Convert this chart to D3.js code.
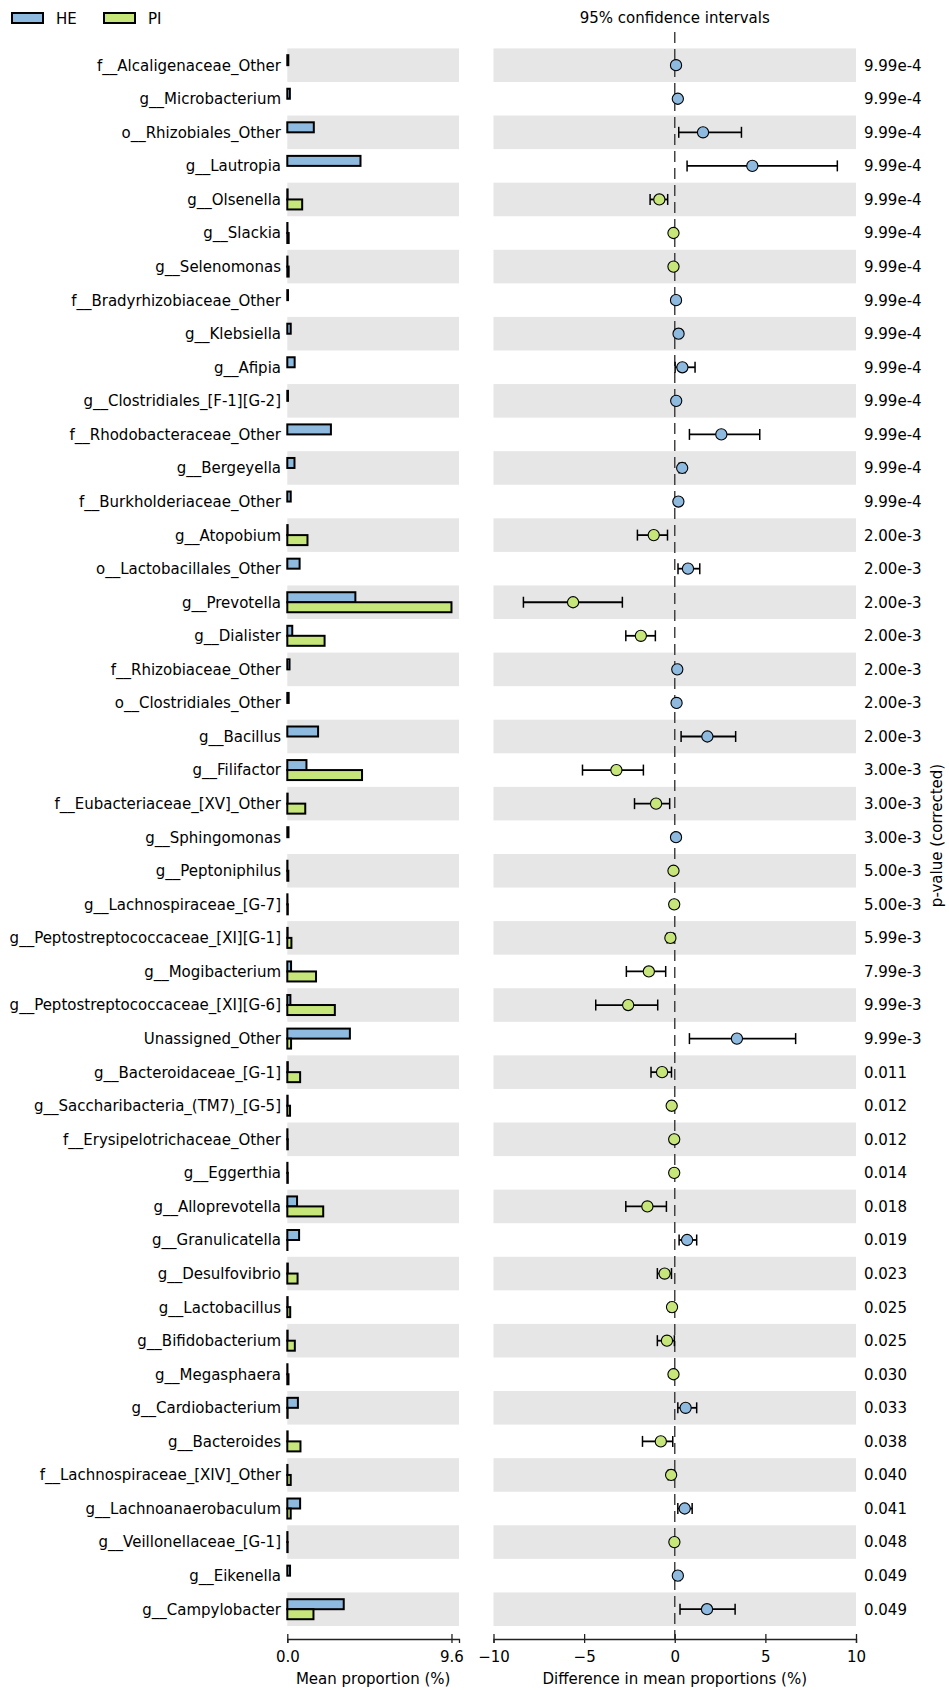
<!DOCTYPE html>
<html>
<head>
<meta charset="utf-8">
<script src="https://cdn.jsdelivr.net/npm/d3@7"></script>
<style>
  html, body { margin: 0; padding: 0; background: #fff; }
  svg { display: block; }
  text { font-family: "DejaVu Sans", sans-serif; fill: #000; }
</style>
</head>
<body>
<svg id="chart" width="949" height="1690"></svg>
<script>
// Taxa compared between the two groups (top to bottom)
const categories = [
  "f__Alcaligenaceae_Other", "g__Microbacterium", "o__Rhizobiales_Other", "g__Lautropia",
  "g__Olsenella", "g__Slackia", "g__Selenomonas", "f__Bradyrhizobiaceae_Other",
  "g__Klebsiella", "g__Afipia", "g__Clostridiales_[F-1][G-2]", "f__Rhodobacteraceae_Other",
  "g__Bergeyella", "f__Burkholderiaceae_Other", "g__Atopobium", "o__Lactobacillales_Other",
  "g__Prevotella", "g__Dialister", "f__Rhizobiaceae_Other", "o__Clostridiales_Other",
  "g__Bacillus", "g__Filifactor", "f__Eubacteriaceae_[XV]_Other", "g__Sphingomonas",
  "g__Peptoniphilus", "g__Lachnospiraceae_[G-7]", "g__Peptostreptococcaceae_[XI][G-1]", "g__Mogibacterium",
  "g__Peptostreptococcaceae_[XI][G-6]", "Unassigned_Other", "g__Bacteroidaceae_[G-1]", "g__Saccharibacteria_(TM7)_[G-5]",
  "f__Erysipelotrichaceae_Other", "g__Eggerthia", "g__Alloprevotella", "g__Granulicatella",
  "g__Desulfovibrio", "g__Lactobacillus", "g__Bifidobacterium", "g__Megasphaera",
  "g__Cardiobacterium", "g__Bacteroides", "f__Lachnospiraceae_[XIV]_Other", "g__Lachnoanaerobaculum",
  "g__Veillonellaceae_[G-1]", "g__Eikenella", "g__Campylobacter"
];

const groups = ["HE", "PI"];

// Mean proportion (%) per group
const heMean = [
  0.06, 0.15, 1.55, 4.28, 0.02, 0.01, 0.01, 0.04, 0.20, 0.43, 0.04, 2.55,
  0.42, 0.20, 0.02, 0.72, 3.98, 0.29, 0.13, 0.08, 1.80, 1.12, 0.02, 0.07,
  0.01, 0.01, 0.02, 0.22, 0.18, 3.66, 0.03, 0.02, 0.01, 0.01, 0.57, 0.69,
  0.03, 0.02, 0.02, 0.01, 0.62, 0.02, 0.01, 0.75, 0.01, 0.16, 3.30
];
const piMean = [
  0.00, 0.00, 0.00, 0.00, 0.87, 0.08, 0.08, 0.00, 0.00, 0.00, 0.00, 0.00,
  0.00, 0.00, 1.18, 0.00, 9.60, 2.18, 0.00, 0.00, 0.00, 4.37, 1.05, 0.00,
  0.06, 0.03, 0.24, 1.68, 2.78, 0.22, 0.75, 0.16, 0.03, 0.03, 2.10, 0.01,
  0.60, 0.17, 0.44, 0.07, 0.02, 0.77, 0.20, 0.20, 0.02, 0.00, 1.53
];

// Difference in mean proportions (%) with 95% confidence interval
const diffMean = [
  0.07, 0.17, 1.56, 4.28, -0.85, -0.07, -0.07, 0.07, 0.21, 0.42, 0.08, 2.57,
  0.41, 0.20, -1.16, 0.73, -5.61, -1.87, 0.14, 0.10, 1.80, -3.22, -1.03, 0.07,
  -0.07, -0.03, -0.24, -1.43, -2.57, 3.43, -0.70, -0.17, -0.03, -0.03, -1.51, 0.68,
  -0.56, -0.15, -0.43, -0.07, 0.60, -0.77, -0.20, 0.55, -0.02, 0.17, 1.78
];
const ciLow = [
  0.03, 0.10, 0.22, 0.68, -1.36, -0.12, -0.12, 0.03, 0.10, 0.02, 0.03, 0.81,
  0.24, 0.10, -2.06, 0.18, -8.35, -2.70, 0.05, 0.03, 0.35, -5.09, -2.22, 0.02,
  -0.12, -0.06, -0.42, -2.67, -4.36, 0.81, -1.31, -0.30, -0.06, -0.06, -2.70, 0.24,
  -0.96, -0.28, -0.96, -0.12, 0.17, -1.78, -0.36, 0.17, -0.04, 0.05, 0.29
];
const ciHigh = [
  0.11, 0.24, 3.68, 8.97, -0.39, -0.02, -0.02, 0.11, 0.33, 1.12, 0.13, 4.69,
  0.58, 0.30, -0.40, 1.38, -2.89, -1.07, 0.23, 0.17, 3.36, -1.73, -0.28, 0.12,
  -0.02, -0.01, -0.07, -0.50, -0.94, 6.67, -0.18, -0.04, -0.01, -0.01, -0.46, 1.21,
  -0.18, -0.03, -0.02, -0.02, 1.21, -0.11, -0.05, 0.96, -0.01, 0.30, 3.33
];

// Corrected p-values
const pValues = [
  "9.99e-4", "9.99e-4", "9.99e-4", "9.99e-4", "9.99e-4", "9.99e-4", "9.99e-4", "9.99e-4",
  "9.99e-4", "9.99e-4", "9.99e-4", "9.99e-4", "9.99e-4", "9.99e-4", "2.00e-3", "2.00e-3",
  "2.00e-3", "2.00e-3", "2.00e-3", "2.00e-3", "2.00e-3", "3.00e-3", "3.00e-3", "3.00e-3",
  "5.00e-3", "5.00e-3", "5.99e-3", "7.99e-3", "9.99e-3", "9.99e-3", "0.011", "0.012",
  "0.012", "0.014", "0.018", "0.019", "0.023", "0.025", "0.025", "0.030",
  "0.033", "0.038", "0.040", "0.041", "0.048", "0.049", "0.049"
];

const meanTicks = [0, 9.6];
const diffTicks = [-10, -5, 0, 5, 10];

const colors = { HE: "#8ebadf", PI: "#c6e67a" };
const bandFill = "#e6e6e6";

const rows = categories.map((name, i) => ({
  name, i, he: heMean[i], pi: piMean[i],
  diff: diffMean[i], lo: ciLow[i], hi: ciHigh[i], p: pValues[i]
}));

const svg = d3.select("#chart");

// Layout
const rowTop = 48.4, rowBottom = 1626;
const axisY = 1639, axesTop = 32;
const leftX0 = 287.3, leftX1 = 459;
const rightX0 = 493.5, rightX1 = 856;

const y = d3.scaleBand().domain(categories).range([rowTop, rowBottom]).paddingInner(0).paddingOuter(0);
const xMean = d3.scaleLinear().domain([0, 10.04]).range([leftX0, leftX1]);
const xDiff = d3.scaleLinear().domain([-10, 10]).range([rightX0, rightX1]);
const bh = 10; // height of each group bar

// Alternating row bands in both panels
const bands = svg.append("g");
rows.filter(d => d.i % 2 === 0).forEach(d => {
  bands.append("rect").attr("x", leftX0).attr("y", y(d.name))
    .attr("width", leftX1 - leftX0).attr("height", y.bandwidth()).attr("fill", bandFill);
  bands.append("rect").attr("x", rightX0).attr("y", y(d.name))
    .attr("width", rightX1 - rightX0).attr("height", y.bandwidth()).attr("fill", bandFill);
});

// Row labels
svg.append("g").selectAll("text").data(rows).join("text")
  .attr("x", 281).attr("y", d => y(d.name) + y.bandwidth() / 2)
  .attr("dy", "0.36em").attr("text-anchor", "end").attr("font-size", 15)
  .text(d => d.name);

// Mean proportion bars
const barG = svg.append("g");
barG.selectAll("rect.he").data(rows).join("rect").attr("class", "he")
  .attr("x", xMean(0)).attr("y", d => y(d.name) + y.bandwidth() / 2 - bh)
  .attr("width", d => xMean(d.he) - xMean(0)).attr("height", bh)
  .attr("fill", colors.HE).attr("stroke", "#000").attr("stroke-width", 2);
barG.selectAll("rect.pi").data(rows).join("rect").attr("class", "pi")
  .attr("x", xMean(0)).attr("y", d => y(d.name) + y.bandwidth() / 2)
  .attr("width", d => xMean(d.pi) - xMean(0)).attr("height", bh)
  .attr("fill", colors.PI).attr("stroke", "#000").attr("stroke-width", 2);

// Zero reference line in the difference panel
svg.append("line")
  .attr("x1", xDiff(0)).attr("x2", xDiff(0)).attr("y1", axesTop).attr("y2", axisY)
  .attr("stroke", "#444").attr("stroke-width", 1.5).attr("stroke-dasharray", "11,6");

// Confidence intervals
const ciG = svg.append("g");
rows.forEach(d => {
  const cy = y(d.name) + y.bandwidth() / 2;
  const g = ciG.append("g");
  g.append("line").attr("x1", xDiff(d.lo)).attr("x2", xDiff(d.hi)).attr("y1", cy).attr("y2", cy)
    .attr("stroke", "#000").attr("stroke-width", 1.8);
  [d.lo, d.hi].forEach(v => {
    g.append("line").attr("x1", xDiff(v)).attr("x2", xDiff(v)).attr("y1", cy - 5.5).attr("y2", cy + 5.5)
      .attr("stroke", "#000").attr("stroke-width", 1.5);
  });
  g.append("circle").attr("cx", xDiff(d.diff)).attr("cy", cy).attr("r", 5.6)
    .attr("fill", d.diff >= 0 ? colors.HE : colors.PI).attr("stroke", "#000").attr("stroke-width", 1.1);
});

// p-values
svg.append("g").selectAll("text").data(rows).join("text")
  .attr("x", 864).attr("y", d => y(d.name) + y.bandwidth() / 2)
  .attr("dy", "0.36em").attr("font-size", 15).text(d => d.p);

svg.append("text")
  .attr("transform", `translate(942, ${(axesTop + axisY) / 2}) rotate(-90)`)
  .attr("text-anchor", "middle").attr("font-size", 15).text("p-value (corrected)");

// Panel title
svg.append("text").attr("x", xDiff(0)).attr("y", 23).attr("text-anchor", "middle")
  .attr("font-size", 15).text("95% confidence intervals");

// Bottom axes
function styleAxis(g) {
  g.selectAll(".domain").attr("stroke", "#222").attr("stroke-width", 1.3);
  g.selectAll(".tick line").attr("y1", -5).attr("y2", 4).attr("stroke", "#222").attr("stroke-width", 1.3);
  g.selectAll(".tick text").attr("font-size", 15).attr("font-family", "DejaVu Sans, sans-serif").attr("fill", "#000");
}
svg.append("g").attr("transform", `translate(0,${axisY})`)
  .call(d3.axisBottom(xMean).tickValues(meanTicks).tickFormat(d3.format(".1f")).tickSizeOuter(0).tickSize(4).tickPadding(8))
  .call(styleAxis);
svg.append("g").attr("transform", `translate(0,${axisY})`)
  .call(d3.axisBottom(xDiff).tickValues(diffTicks).tickFormat(d => d < 0 ? "\u2212" + Math.abs(d) : d).tickSizeOuter(0).tickSize(4).tickPadding(8))
  .call(styleAxis);

svg.append("text").attr("x", (leftX0 + leftX1) / 2).attr("y", 1684).attr("text-anchor", "middle")
  .attr("font-size", 15).text("Mean proportion (%)");
svg.append("text").attr("x", (rightX0 + rightX1) / 2).attr("y", 1684).attr("text-anchor", "middle")
  .attr("font-size", 15).text("Difference in mean proportions (%)");

// Legend
const legend = svg.append("g");
const legendX = [12, 104];
groups.forEach((gname, k) => {
  legend.append("rect").attr("x", legendX[k]).attr("y", 13).attr("width", 31).attr("height", 10)
    .attr("fill", colors[gname]).attr("stroke", "#000").attr("stroke-width", 2);
  legend.append("text").attr("x", legendX[k] + 44).attr("y", 24).attr("font-size", 15).text(gname);
});
</script>
</body>
</html>
